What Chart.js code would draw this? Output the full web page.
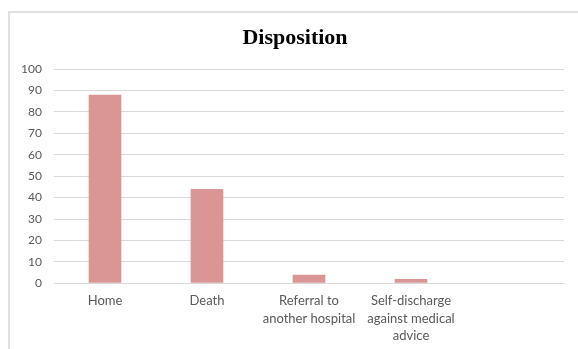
<!DOCTYPE html>
<html>
<head>
<meta charset="utf-8">
<script src="https://cdn.jsdelivr.net/npm/chart.js@4/dist/chart.umd.min.js"></script>
<style>
  html, body { margin: 0; padding: 0; background: #fff; }
  body { width: 578px; height: 349px; position: relative; overflow: hidden; }
  #frame { position: absolute; left: 8px; top: 11px; width: 600px; height: 400px; border: 2px solid #E0E0E0; box-sizing: border-box; }
  #wrap { position: absolute; left: 0; top: 0; width: 578px; height: 349px; }
</style>
</head>
<body>
<div id="frame"></div>
<div id="wrap"><canvas id="c" width="578" height="349"></canvas></div>
<script>
const chartTitle = "Disposition";
const categories = [["Home"], ["Death"], ["Referral to", "another hospital"], ["Self-discharge", "against medical", "advice"], [""]];
const values = [88, 44, 4, 2, null];
const yTicks = { min: 0, max: 100, step: 10 };

const labelFamily = "Lato, 'Liberation Sans', sans-serif";

// keep y tick labels from being clipped to the narrow axis box
const unclipYLabels = {
  id: 'unclipYLabels',
  afterLayout(chart) { chart.scales.y.left = 0; }
};

new Chart(document.getElementById('c'), {
  type: 'bar',
  data: {
    labels: categories,
    datasets: [{
      data: values,
      backgroundColor: '#D99694',
      borderWidth: 0,
      categoryPercentage: 1,
      barPercentage: 0.32
    }]
  },
  plugins: [unclipYLabels],
  options: {
    responsive: false,
    animation: false,
    events: [],
    layout: { padding: { left: 26, right: 14, top: 25, bottom: 3 } },
    plugins: {
      legend: { display: false },
      tooltip: { enabled: false },
      title: {
        display: true,
        text: chartTitle,
        color: '#000',
        font: { family: "'Liberation Serif', 'Times New Roman', serif", size: 22, weight: 'bold', lineHeight: 1.2 },
        padding: { top: 0, bottom: 17.6 }
      }
    },
    scales: {
      x: {
        grid: { display: false },
        border: { display: true, color: '#D9D9D9' },
        ticks: { color: '#595959', font: { family: labelFamily, size: 13, lineHeight: 1.35 }, padding: 1, maxRotation: 0, autoSkip: false }
      },
      y: {
        min: yTicks.min,
        max: yTicks.max,
        afterFit: (s) => { s.width = 28; },
        grid: { color: '#D9D9D9', drawTicks: false },
        border: { display: false },
        ticks: { stepSize: yTicks.step, color: '#595959', font: { family: labelFamily, size: 12 }, padding: 12 }
      }
    }
  }
});
</script>
</body>
</html>
